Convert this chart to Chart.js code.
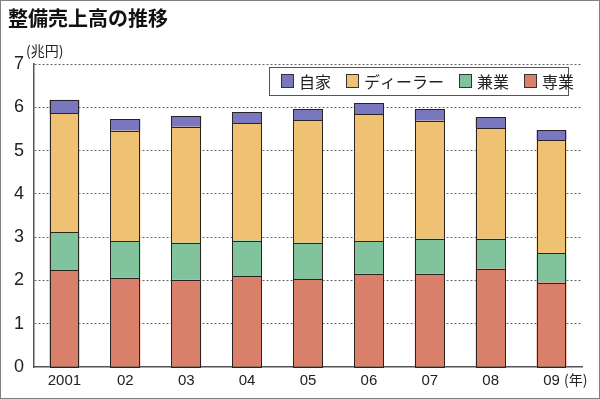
<!DOCTYPE html>
<html>
<head>
<meta charset="utf-8">
<script src="https://cdn.jsdelivr.net/npm/chart.js@4.4.0/dist/chart.umd.min.js"></script>
<style>
  html, body { margin: 0; padding: 0; background: #fff; }
  #wrap { width: 600px; height: 399px; position: relative; }
</style>
</head>
<body>
<div id="wrap"><canvas id="chart" width="600" height="399"></canvas></div>
<script>
const years = ['2001', '02', '03', '04', '05', '06', '07', '08', '09'];
const senngyo = [2.24, 2.06, 2.02, 2.10, 2.03, 2.16, 2.16, 2.27, 1.95];   // 専業
const kengyo = [0.89, 0.84, 0.85, 0.82, 0.84, 0.74, 0.80, 0.69, 0.68];    // 兼業
const dealer = [2.73, 2.56, 2.68, 2.71, 2.83, 2.94, 2.73, 2.56, 2.61];    // ディーラー
const jika = [0.31, 0.27, 0.25, 0.26, 0.26, 0.25, 0.26, 0.25, 0.23];      // 自家
const yTicks = [0, 1, 2, 3, 4, 5, 6, 7];

const JP = "'Noto Sans CJK JP', 'Noto Sans', sans-serif";
const NUM = "'Liberation Sans Narrow', 'Liberation Sans', Arial, sans-serif";

const legendItems = [
    { label: '自家', color: '#7877c0' },
    { label: 'ディーラー', color: '#efc172' },
    { label: '兼業', color: '#80c39c' },
    { label: '専業', color: '#d9806b' }
];

// crisp outlines around every bar segment, read from the bar elements
const barOutlines = {
    id: 'barOutlines',
    afterDatasetsDraw(chart) {
        const ctx = chart.ctx;
        ctx.save();
        ctx.strokeStyle = '#2a2320';
        ctx.lineWidth = 1;
        chart.data.datasets.forEach((ds, i) => {
            chart.getDatasetMeta(i).data.forEach(bar => {
                const left = Math.round(bar.x - bar.width / 2) + 0.5;
                const right = Math.round(bar.x + bar.width / 2) - 0.5;
                const top = Math.round(Math.min(bar.y, bar.base)) + 0.5;
                const bottom = Math.round(Math.max(bar.y, bar.base)) + 0.5;
                ctx.strokeRect(left, top, right - left, bottom - top);
            });
        });
        ctx.restore();
    }
};

const decorations = {
    id: 'decorations',
    afterDraw(chart) {
        const ctx = chart.ctx;
        ctx.save();
        // frame
        ctx.strokeStyle = '#808080';
        ctx.lineWidth = 1;
        ctx.strokeRect(0.5, 0.5, 599, 398);
        // title
        ctx.fillStyle = '#111';
        ctx.font = "bold 20px " + JP;
        ctx.textBaseline = 'middle';
        ctx.textAlign = 'left';
        ctx.fillText('整備売上高の推移', 8, 18);
        // unit labels
        ctx.font = "14px " + JP;
        ctx.fillStyle = '#222';
        ctx.fillText('(兆円)', 26, 51);
        ctx.fillText('(年)', 564, 380);
        // legend box
        const bx = 269, by = 67, bw = 299, bh = 28;
        ctx.fillStyle = '#fff';
        ctx.fillRect(bx, by, bw, bh);
        ctx.strokeStyle = '#555';
        ctx.strokeRect(bx + 0.5, by + 0.5, bw, bh);
        ctx.font = "16px " + JP;
        let x = bx + 12;
        legendItems.forEach(item => {
            ctx.fillStyle = item.color;
            ctx.fillRect(x, by + 7, 12, 13);
            ctx.strokeStyle = '#333';
            ctx.strokeRect(x + 0.5, by + 7.5, 12, 13);
            x += 18;
            ctx.fillStyle = '#222';
            ctx.fillText(item.label, x, by + 14.5);
            x += ctx.measureText(item.label).width + 15;
        });
        ctx.restore();
    }
};

function dataset(label, data, color) {
    return {
        label: label,
        data: data,
        backgroundColor: color,
        borderWidth: 0,
        barPercentage: 0.49,
        categoryPercentage: 1.0
    };
}

new Chart(document.getElementById('chart').getContext('2d'), {
    type: 'bar',
    data: {
        labels: years,
        datasets: [
            dataset('専業', senngyo, legendItems[3].color),
            dataset('兼業', kengyo, legendItems[2].color),
            dataset('ディーラー', dealer, legendItems[1].color),
            dataset('自家', jika, legendItems[0].color)
        ]
    },
    options: {
        responsive: false,
        animation: false,
        layout: { padding: { left: 0, top: 64, right: 18, bottom: 0 } },
        plugins: {
            legend: { display: false },
            tooltip: { enabled: false }
        },
        scales: {
            x: {
                stacked: true,
                afterFit: (scale) => { scale.height = 32; },
                grid: { display: false, drawTicks: false },
                border: { color: '#555', width: 1.5 },
                ticks: { color: '#222', font: { family: NUM, size: 15 }, padding: 5 }
            },
            y: {
                stacked: true,
                min: 0,
                max: 7,
                afterFit: (scale) => { scale.width = 34; },
                afterBuildTicks: (scale) => { scale.ticks = yTicks.map(v => ({ value: v })); },
                grid: {
                    color: (c) => c.tick && c.tick.value === 0 ? 'rgba(0,0,0,0)' : '#666',
                    lineWidth: 1,
                    drawTicks: false
                },
                border: { color: '#555', width: 1.5, dash: [2, 2] },
                ticks: { color: '#222', font: { family: NUM, size: 18 }, padding: 10 }
            }
        }
    },
    plugins: [barOutlines, decorations]
});
</script>
</body>
</html>
